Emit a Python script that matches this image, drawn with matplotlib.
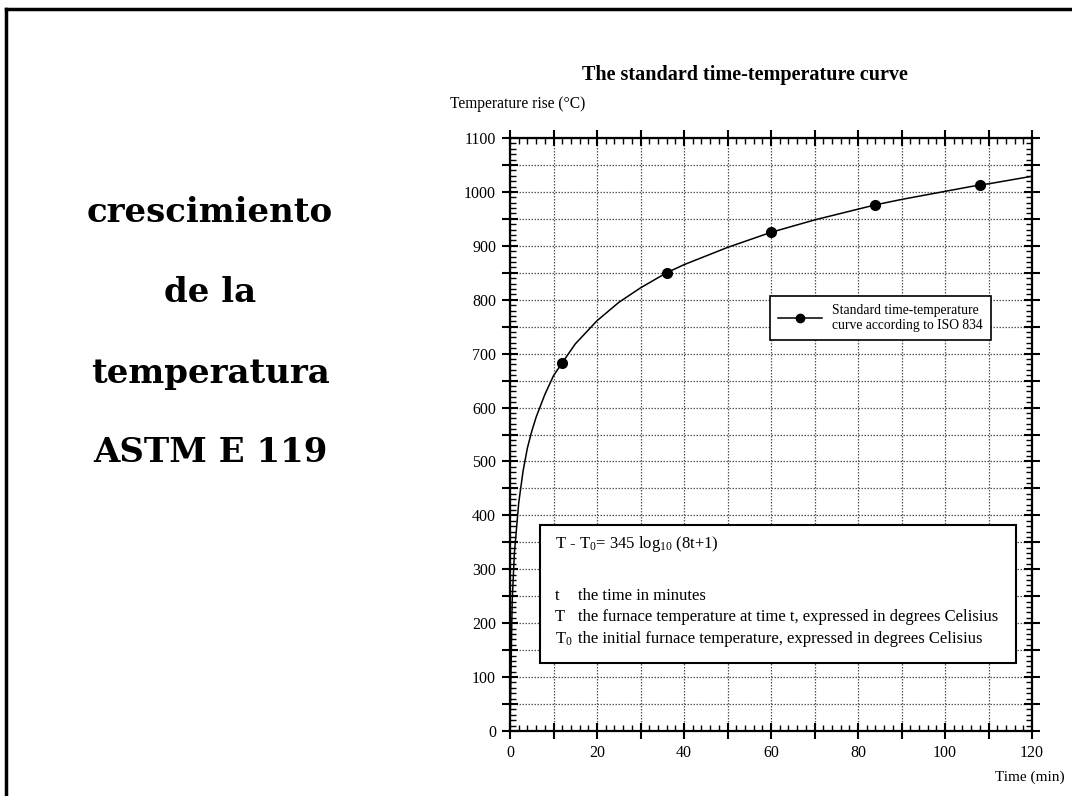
import matplotlib
matplotlib.use("Agg")
import matplotlib.pyplot as plt
from matplotlib.ticker import MultipleLocator, FuncFormatter
from matplotlib.lines import Line2D

plt.rcParams["font.family"] = ["Liberation Serif", "DejaVu Serif"]
plt.rcParams["mathtext.fontset"] = "custom"
plt.rcParams["mathtext.rm"] = "Liberation Serif"
plt.rcParams["mathtext.it"] = "Liberation Serif"

# ISO 834 standard fire curve, time (min) vs temperature rise (°C)
time_min = [0, 0.5, 1, 2, 3, 4, 5, 6, 8, 10, 12, 15, 20, 25, 30, 36, 40,
            50, 60, 70, 80, 84, 90, 100, 108, 110, 120]
temp_rise = [0, 240, 329, 423, 482, 525, 556, 582, 624, 659, 683, 718, 761,
             795, 822, 850, 865, 897, 925, 948, 968, 976, 986, 1001, 1013,
             1015, 1029]

# highlighted points on the curve
marker_time = [12, 36, 60, 84, 108]
marker_temp = [683, 850, 925, 976, 1013]

side_lines = ["crescimiento", "de la", "temperatura", "ASTM E 119"]
side_y = [213, 293, 373, 453]

W, H = 1072, 796
fig = plt.figure(figsize=(W / 100, H / 100), dpi=100)

# page frame
fig.add_artist(Line2D([6 / W, 6 / W], [0, 1 - 9 / H], color="black", lw=2.5,
                      transform=fig.transFigure))
fig.add_artist(Line2D([6 / W, 1], [1 - 9 / H, 1 - 9 / H], color="black", lw=2.5,
                      transform=fig.transFigure))

for txt, yy in zip(side_lines, side_y):
    fig.text(210 / W, 1 - yy / H, txt, ha="center", va="center",
             family="DejaVu Serif", fontweight="heavy", fontsize=24.5)

ax = fig.add_axes([510 / W, 1 - 731 / H, (1032 - 510) / W, (731 - 138) / H])
ax.set_xlim(0, 120)
ax.set_ylim(0, 1100)

ax.plot(time_min, temp_rise, color="black", lw=1.1, zorder=3)
ax.plot(marker_time, marker_temp, "o", color="black", ms=7, zorder=4)

ax.xaxis.set_major_locator(MultipleLocator(10))
ax.xaxis.set_minor_locator(MultipleLocator(2))
ax.yaxis.set_major_locator(MultipleLocator(50))
ax.yaxis.set_minor_locator(MultipleLocator(10))
ax.xaxis.set_major_formatter(FuncFormatter(lambda v, p: f"{v:.0f}" if round(v) % 20 == 0 else ""))
ax.yaxis.set_major_formatter(FuncFormatter(lambda v, p: f"{v:.0f}" if round(v) % 100 == 0 else ""))

ax.tick_params(which="major", direction="inout", length=12, width=1.5,
               top=True, right=True, labelsize=11.5, pad=4)
ax.tick_params(which="minor", direction="in", length=4, width=1.0,
               top=True, right=True)
for s in ax.spines.values():
    s.set_linewidth(1.6)

ax.grid(True, which="major", color="#555555", lw=0.9, linestyle=(0, (1.2, 1.2)))
ax.set_axisbelow(True)

fig.text(745 / W, 1 - 75 / H, "The standard time-temperature curve",
         ha="center", va="center", fontsize=14.5, fontweight="bold")
fig.text(450 / W, 1 - 104 / H, "Temperature rise (°C)", ha="left",
         va="center", fontsize=11.2)
fig.text(1065 / W, 1 - 777 / H, "Time (min)", ha="right", va="center",
         fontsize=11)

# legend
leg = ax.legend([Line2D([0], [0], color="black", lw=1.1, marker="o", ms=6)],
                ["Standard time-temperature\ncurve according to ISO 834"],
                loc="upper left", bbox_to_anchor=((763 - 510) / 522, (731 - 289) / 593),
                fancybox=False, framealpha=1, edgecolor="black", fontsize=9.8,
                handlelength=3.2, borderpad=0.6, labelspacing=0.2)
leg.get_frame().set_linewidth(1.2)

# formula box
bx0, by0 = (540 - 510) / 522, (731 - 663) / 593
bw, bh = (1016 - 540) / 522, (663 - 525) / 593
ax.add_patch(plt.Rectangle((bx0, by0), bw, bh, transform=ax.transAxes,
                           facecolor="white", edgecolor="black", lw=1.5, zorder=5))

def to_ax(px, py):
    return (px - 510) / 522, (731 - py) / 593

ax.text(*to_ax(555, 544), r"T - T$_0$= 345 log$_{10}$ (8t+1)", transform=ax.transAxes,
        ha="left", va="center", fontsize=12, zorder=6)
rows = [("t", "the time in minutes", 596),
        ("T", "the furnace temperature at time t, expressed in degrees Celisius", 617),
        (r"T$_0$", "the initial furnace temperature, expressed in degrees Celisius", 639)]
for sym, desc, py in rows:
    ax.text(*to_ax(555, py), sym, transform=ax.transAxes, ha="left", va="center",
            fontsize=12, zorder=6)
    ax.text(*to_ax(578, py), desc, transform=ax.transAxes, ha="left", va="center",
            fontsize=12, zorder=6)

fig.savefig("out.png", dpi=100)
